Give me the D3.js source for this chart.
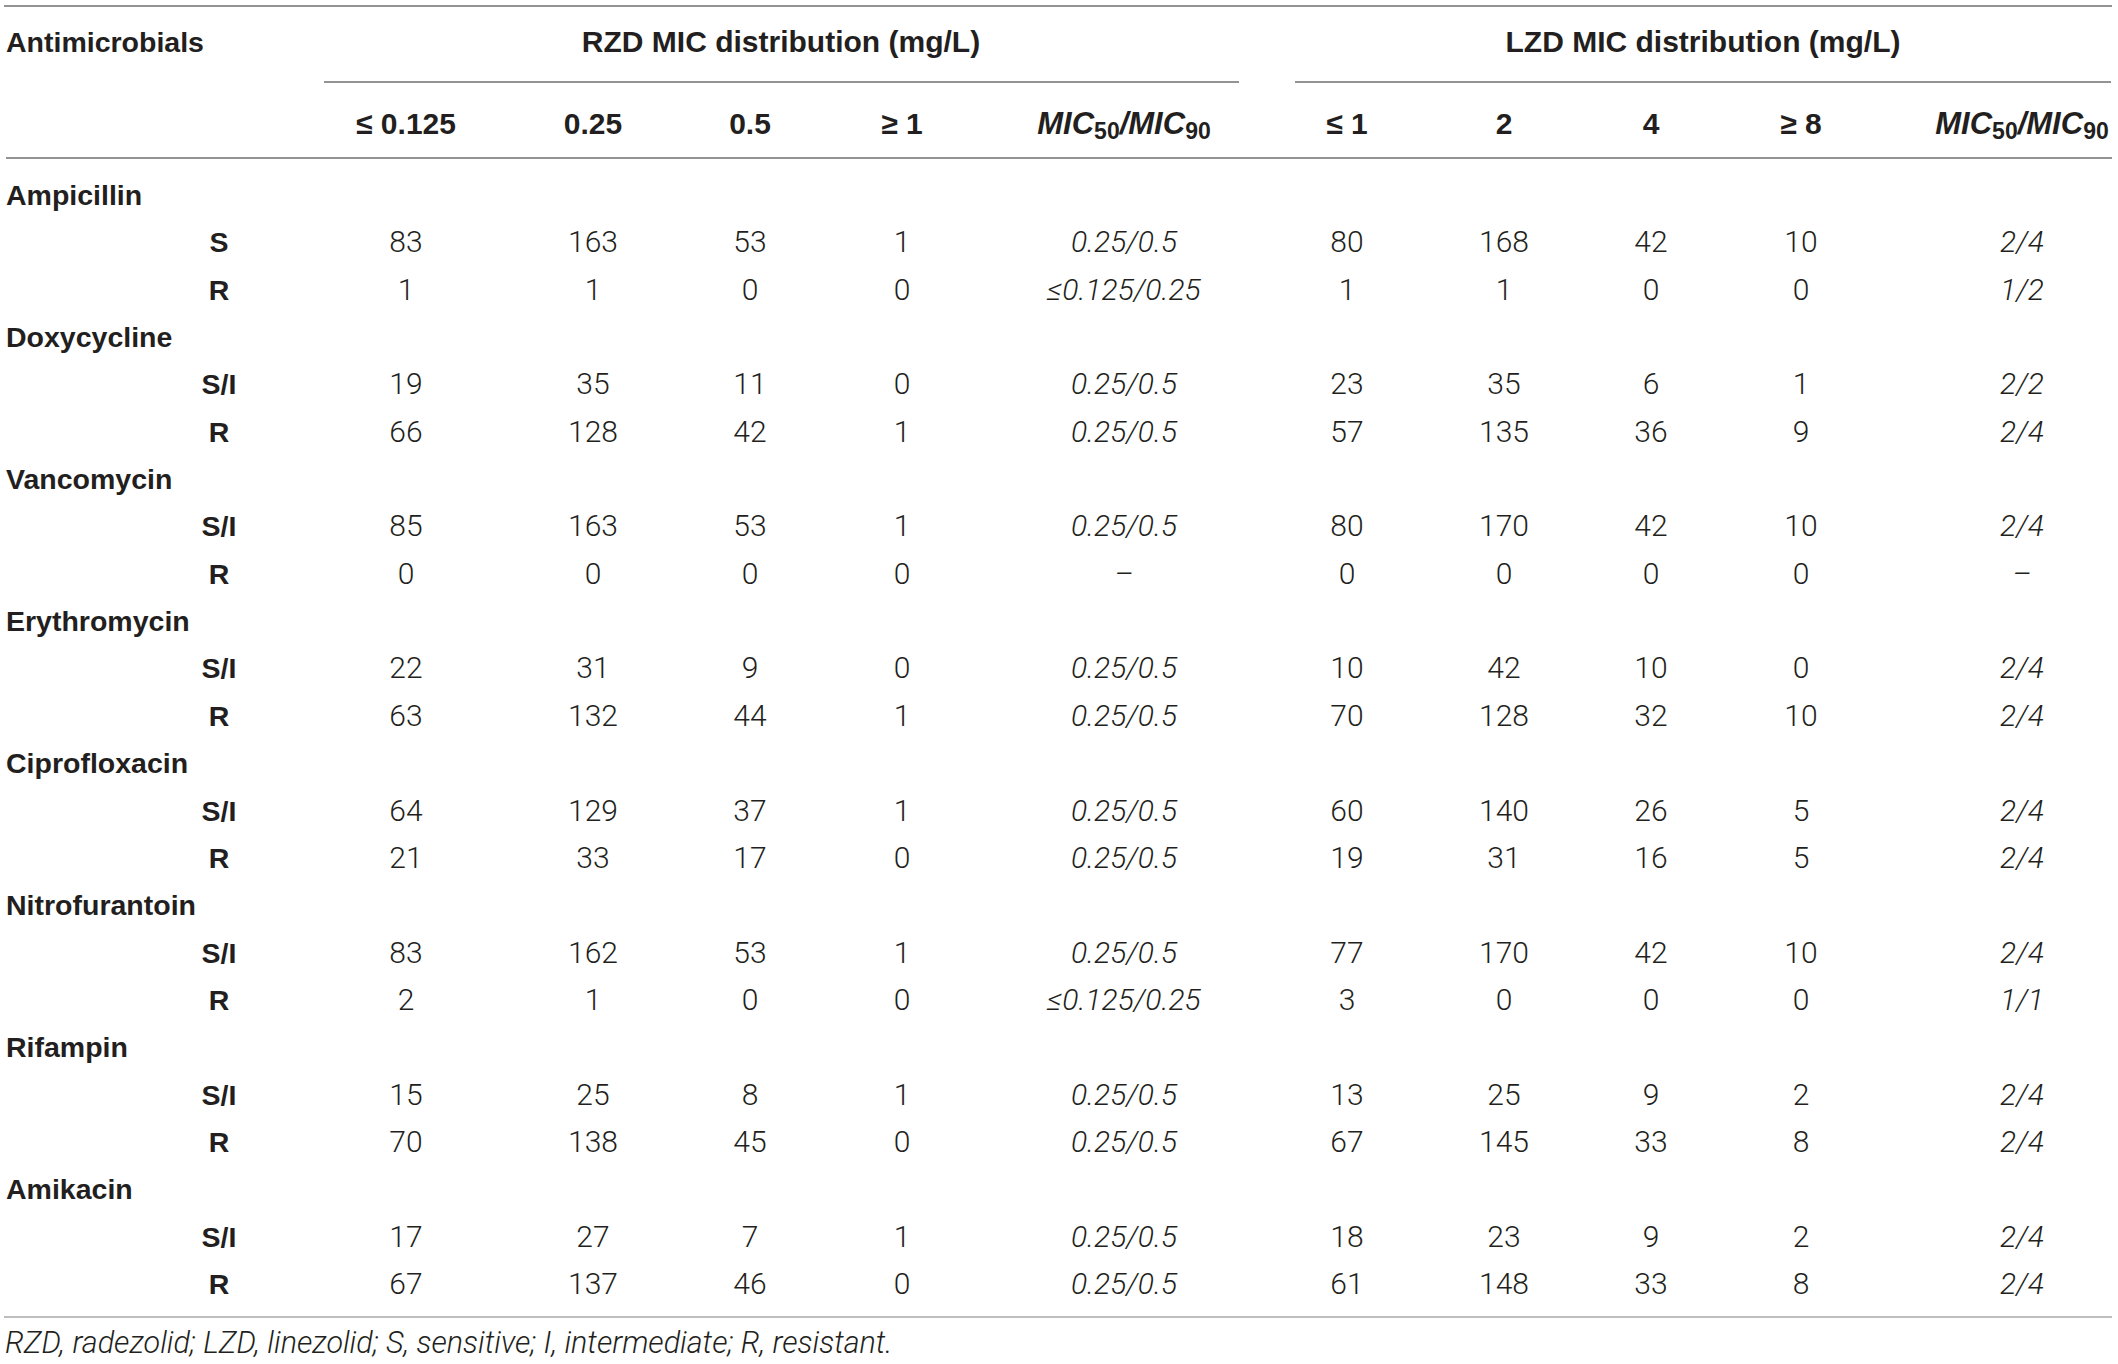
<!DOCTYPE html>
<html><head><meta charset="utf-8">
<script src="https://cdn.jsdelivr.net/npm/d3@7"></script>
<style>
body{margin:0;background:#fff}
svg{display:block}
</style>
</head><body><svg id="chart"></svg>
<script>
// ---------- data ----------
const drugs = ["Ampicillin","Doxycycline","Vancomycin","Erythromycin","Ciprofloxacin","Nitrofurantoin","Rifampin","Amikacin"];
const subgroups = [["S","R"],["S/I","R"],["S/I","R"],["S/I","R"],["S/I","R"],["S/I","R"],["S/I","R"],["S/I","R"]];
const stubHeader = "Antimicrobials";
const rzdTitle = "RZD MIC distribution (mg/L)";
const lzdTitle = "LZD MIC distribution (mg/L)";
const rzdColumns = ["\u2264 0.125","0.25","0.5","\u2265 1"];
const lzdColumns = ["\u2264 1","2","4","\u2265 8"];
const rzdCounts = [
  [83,163,53,1],[1,1,0,0],
  [19,35,11,0],[66,128,42,1],
  [85,163,53,1],[0,0,0,0],
  [22,31,9,0],[63,132,44,1],
  [64,129,37,1],[21,33,17,0],
  [83,162,53,1],[2,1,0,0],
  [15,25,8,1],[70,138,45,0],
  [17,27,7,1],[67,137,46,0]
];
const rzdMIC = ["0.25/0.5","\u22640.125/0.25","0.25/0.5","0.25/0.5","0.25/0.5","\u2013","0.25/0.5","0.25/0.5",
  "0.25/0.5","0.25/0.5","0.25/0.5","\u22640.125/0.25","0.25/0.5","0.25/0.5","0.25/0.5","0.25/0.5"];
const lzdCounts = [
  [80,168,42,10],[1,1,0,0],
  [23,35,6,1],[57,135,36,9],
  [80,170,42,10],[0,0,0,0],
  [10,42,10,0],[70,128,32,10],
  [60,140,26,5],[19,31,16,5],
  [77,170,42,10],[3,0,0,0],
  [13,25,9,2],[67,145,33,8],
  [18,23,9,2],[61,148,33,8]
];
const lzdMIC = ["2/4","1/2","2/2","2/4","2/4","\u2013","2/4","2/4","2/4","2/4","2/4","1/1","2/4","2/4","2/4","2/4"];
const footnote = "RZD, radezolid; LZD, linezolid; S, sensitive; I, intermediate; R, resistant.";

// ---------- layout ----------
const W = 2118, H = 1364;
const colKeys = ["r0","r1","r2","r3","rM","l0","l1","l2","l3","lM"];
const colX = d3.scaleOrdinal().domain(colKeys).range([406,593,750,902,1124,1347,1504,1651,1801,2022]);
const nRows = drugs.length * 3;
const rowY = d3.scaleLinear().domain([0, nRows - 1]).range([205, 1294]);

const BOLD = "'Liberation Sans', Arial, Helvetica, sans-serif";
const LIGHT = "Roboto, 'Liberation Sans', Arial, sans-serif";
const FS_STUB = 28.5;
const FS_HEAD = 30;
const FS_BODY = 30;
const INK = "#231f20";
const RULE = "#6f6f6f";

const svg = d3.select("#chart").attr("width", W).attr("height", H);
svg.append("rect").attr("width", W).attr("height", H).attr("fill", "#fff");

// rules
const rules = [
  {x1:4, x2:2112, y:6, c:RULE},
  {x1:324, x2:1239, y:82, c:RULE},
  {x1:1295, x2:2111, y:82, c:RULE},
  {x1:6, x2:2112, y:158, c:RULE},
  {x1:4, x2:2112, y:1317, c:"#a8a8a8"}
];
svg.append("g").selectAll("line").data(rules).join("line")
  .attr("x1", d => d.x1).attr("x2", d => d.x2)
  .attr("y1", d => d.y).attr("y2", d => d.y)
  .attr("stroke", d => d.c).attr("stroke-width", 1.6);

// header row 1
const h1 = svg.append("g").attr("font-family", BOLD).attr("font-weight", "bold").attr("fill", INK);
h1.append("text").attr("x", 6).attr("y", 52).attr("font-size", FS_STUB).text(stubHeader);
h1.append("text").attr("x", 781).attr("y", 52).attr("font-size", FS_HEAD).attr("text-anchor", "middle").text(rzdTitle);
h1.append("text").attr("x", 1703).attr("y", 52).attr("font-size", FS_HEAD).attr("text-anchor", "middle").text(lzdTitle);

// header row 2
const h2 = svg.append("g").attr("font-family", BOLD).attr("font-weight", "bold")
  .attr("font-size", FS_HEAD).attr("fill", INK);
const headCols = rzdColumns.map((t,i) => ({k:"r"+i, t})).concat(lzdColumns.map((t,i) => ({k:"l"+i, t})));
h2.selectAll("text.hc").data(headCols).join("text").attr("class","hc")
  .attr("x", d => colX(d.k)).attr("y", 134).attr("text-anchor", "middle").text(d => d.t);
["rM","lM"].forEach(k => {
  const t = h2.append("text").attr("x", colX(k)).attr("y", 134).attr("text-anchor", "middle")
    .attr("font-style", "italic").attr("font-size", 31);
  t.append("tspan").text("MIC");
  t.append("tspan").attr("font-size", 23).attr("font-style", "normal").attr("dy", 5).text("50");
  t.append("tspan").attr("dy", -5).text("/MIC");
  t.append("tspan").attr("font-size", 23).attr("font-style", "normal").attr("dy", 5).text("90");
});

// body rows
const rows = [];
let dataIdx = 0;
drugs.forEach((drug, di) => {
  rows.push({type:"drug", label:drug, r: di*3});
  subgroups[di].forEach((sg, si) => {
    rows.push({type:"sub", label:sg, r: di*3 + 1 + si, idx: dataIdx++});
  });
});

const body = svg.append("g");
body.selectAll("text.drug").data(rows.filter(d => d.type === "drug")).join("text").attr("class","drug")
  .attr("x", 6).attr("y", d => rowY(d.r))
  .attr("font-family", BOLD).attr("font-weight", "bold").attr("font-size", FS_STUB).attr("fill", INK)
  .text(d => d.label);

const subRows = rows.filter(d => d.type === "sub");
body.selectAll("text.sub").data(subRows).join("text").attr("class","sub")
  .attr("x", 219).attr("y", d => rowY(d.r)).attr("text-anchor", "middle")
  .attr("font-family", BOLD).attr("font-weight", "bold").attr("font-size", FS_STUB).attr("fill", INK)
  .text(d => d.label);

const cells = [];
subRows.forEach(row => {
  rzdCounts[row.idx].forEach((v, j) => cells.push({k:"r"+j, r:row.r, t:String(v), it:false}));
  cells.push({k:"rM", r:row.r, t:rzdMIC[row.idx], it:true});
  lzdCounts[row.idx].forEach((v, j) => cells.push({k:"l"+j, r:row.r, t:String(v), it:false}));
  cells.push({k:"lM", r:row.r, t:lzdMIC[row.idx], it:true});
});
body.selectAll("text.cell").data(cells).join("text").attr("class","cell")
  .attr("x", d => colX(d.k)).attr("y", d => rowY(d.r)).attr("text-anchor", "middle")
  .attr("font-family", LIGHT).attr("font-weight", 300).attr("font-size", FS_BODY)
  .attr("font-style", d => d.it ? "italic" : "normal").attr("fill", INK)
  .text(d => d.t);

// footnote
svg.append("text").attr("x", 5).attr("y", 1353)
  .attr("font-family", LIGHT).attr("font-weight", 300).attr("font-style", "italic")
  .attr("font-size", 30.5).attr("fill", INK).text(footnote);
</script>
</body></html>
